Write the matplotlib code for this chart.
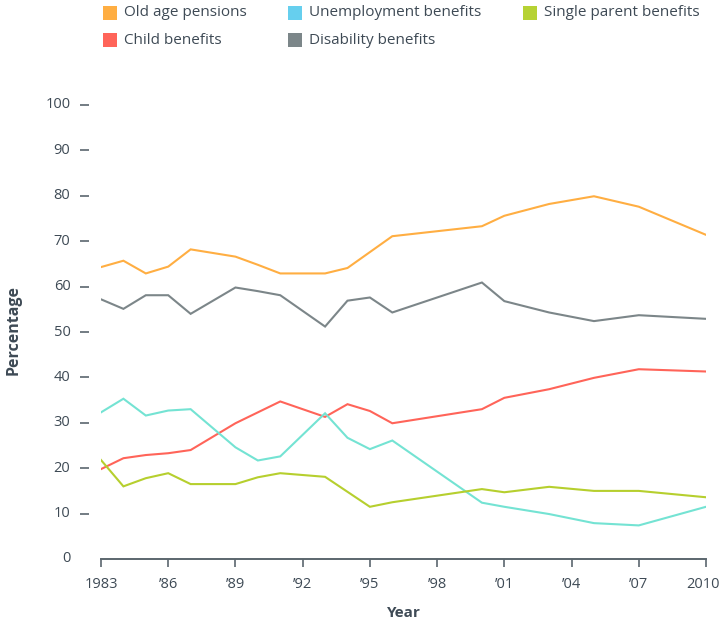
import matplotlib
matplotlib.use("Agg")
import matplotlib.pyplot as plt
from matplotlib.patches import Rectangle
from matplotlib.transforms import ScaledTranslation

plt.rcParams['font.family'] = ['Open Sans', 'DejaVu Sans']

years = [1983, 1984, 1985, 1986, 1987, 1989, 1990, 1991, 1993, 1994,
         1995, 1996, 2000, 2001, 2003, 2005, 2007, 2010]

old_age = [64.3, 65.7, 62.9, 64.4, 68.2, 66.6, 64.8, 62.9, 62.9, 64.1,
           67.6, 71.1, 73.3, 75.6, 78.2, 79.9, 77.6, 71.4]
child = [19.8, 22.2, 22.9, 23.3, 24.0, 29.9, 32.3, 34.7, 31.3, 34.1,
         32.6, 29.9, 33.0, 35.5, 37.4, 39.9, 41.8, 41.3]
unemployment = [32.3, 35.3, 31.6, 32.7, 33.0, 24.6, 21.7, 22.6, 32.1, 26.7,
                24.2, 26.1, 12.4, 11.5, 9.9, 7.9, 7.4, 11.5]
disability = [57.2, 55.1, 58.1, 58.1, 54.0, 59.8, 59.0, 58.1, 51.2, 56.9,
              57.6, 54.3, 60.9, 56.8, 54.3, 52.4, 53.7, 52.9]
single_parent = [21.8, 16.0, 17.8, 18.9, 16.5, 16.5, 18.0, 18.9, 18.1, 14.8,
                 11.5, 12.5, 15.4, 14.7, 15.9, 15.0, 15.0, 13.6]

xtick_values = [1983, 1986, 1989, 1992, 1995, 1998, 2001, 2004, 2007, 2010]
xtick_labels = ['1983', "\u201986", "\u201989", "\u201992", "\u201995",
                "\u201998", "\u201901", "\u201904", "\u201907", '2010']
ytick_values = list(range(0, 101, 10))

series = [
    ("Old age pensions", old_age, "#FFAE42", "#FFAE42"),
    ("Child benefits", child, "#FF6459", "#FF6459"),
    ("Unemployment benefits", unemployment, "#74E3D3", "#66CFEE"),
    ("Disability benefits", disability, "#7C8689", "#7C8689"),
    ("Single parent benefits", single_parent, "#B6CF2E", "#B6D234"),
]

text_color = "#3E4A55"
axis_color = "#5B666E"

fig = plt.figure(figsize=(7.21, 6.23), dpi=100)
ax = fig.add_axes([101 / 721, 1 - 559 / 623, 605 / 721, 454 / 623])

for name, vals, color, _ in series:
    ax.plot(years, vals, color=color, lw=1.5, solid_joinstyle='miter')

ax.set_xlim(1983, 2010)
ax.set_ylim(0, 100)

for s in ['top', 'right', 'left']:
    ax.spines[s].set_visible(False)
ax.spines['bottom'].set_color(axis_color)
ax.spines['bottom'].set_linewidth(1.4)
ax.spines['left'].set_position(('outward', 8.5))

ax.set_xticks(xtick_values)
ax.set_xticklabels(xtick_labels)
ax.set_yticks(ytick_values)
ax.set_yticklabels([str(v) for v in ytick_values])

ax.tick_params(axis='x', direction='out', length=6, width=1.2, color=axis_color,
               labelcolor=text_color, labelsize=10.5, pad=7)
ax.tick_params(axis='y', direction='out', length=6.5, width=1.2, color=axis_color,
               labelcolor=text_color, labelsize=10.5, pad=7)
ax.yaxis.get_major_ticks()[0].tick1line.set_visible(False)
for lbl in ax.get_yticklabels():
    lbl.set_verticalalignment('center')

# keep the last year label inside the canvas
last = ax.get_xticklabels()[-1]
last.set_transform(last.get_transform() + ScaledTranslation(-3 / 100, 0, fig.dpi_scale_trans))

fig.text(14 / 721, 1 - 330 / 623, "Percentage", rotation=90, ha='center',
         va='center', fontsize=11.5, fontweight='bold', color=text_color)
fig.text(404 / 721, 1 - 613 / 623, "Year", ha='center', va='center',
         fontsize=11, fontweight='bold', color=text_color)

# legend: three columns, two rows
legend_pos = [(103, 13), (103, 40), (288, 13), (288, 40), (523, 13)]
for (name, _, _, swatch), (px, py) in zip(series, legend_pos):
    fig.patches.append(Rectangle((px / 721, 1 - (py + 7) / 623), 14 / 721, 14 / 623,
                                 transform=fig.transFigure, facecolor=swatch,
                                 edgecolor='none'))
    fig.text((px + 21) / 721, 1 - py / 623, name, ha='left', va='center',
             fontsize=11, color=text_color)

fig.savefig("out.png", dpi=100, facecolor='white')
